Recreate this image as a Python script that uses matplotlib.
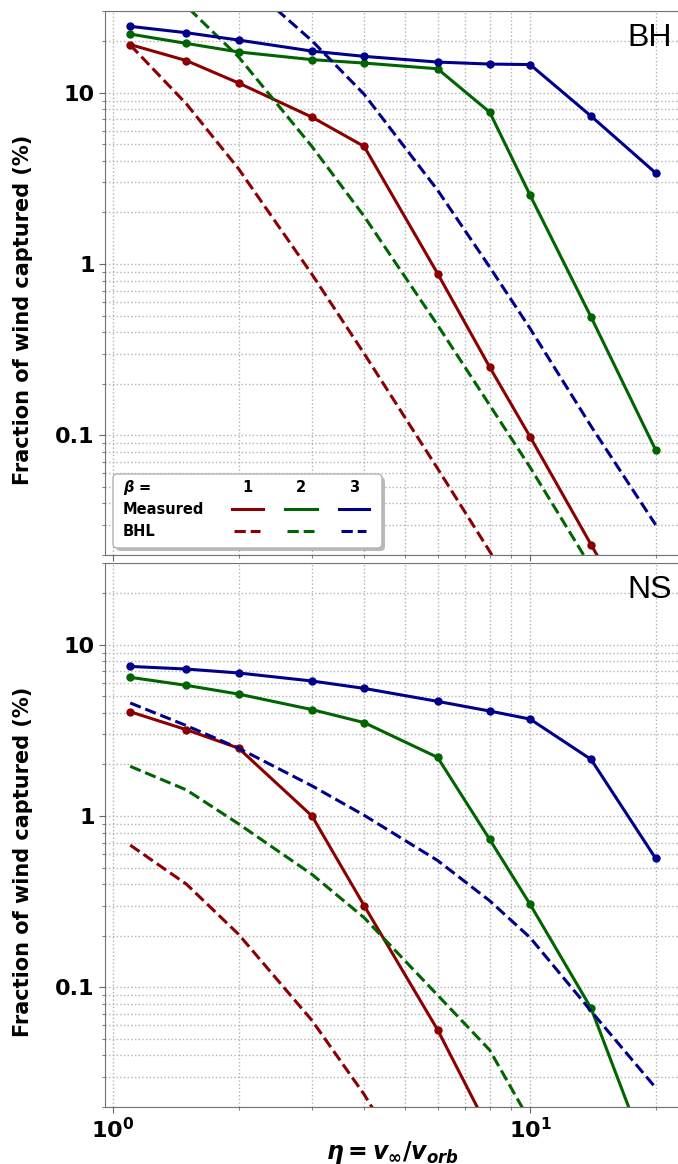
import numpy as np
import matplotlib
matplotlib.use('Agg')
import matplotlib.pyplot as plt
from matplotlib.ticker import FuncFormatter, LogLocator, NullFormatter
from matplotlib.patches import FancyBboxPatch
from matplotlib.lines import Line2D

plt.rcParams['font.family'] = 'DejaVu Sans'
plt.rcParams['font.weight'] = 'bold'
plt.rcParams['mathtext.fontset'] = 'custom'
plt.rcParams['mathtext.rm'] = 'DejaVu Sans:bold'
plt.rcParams['mathtext.bf'] = 'DejaVu Sans:bold'
plt.rcParams['mathtext.it'] = 'DejaVu Sans:italic:bold'

# eta = v_inf / v_orb
eta = [1.1, 1.5, 2, 3, 4, 6, 8, 10, 14, 20]
betas = ['1', '2', '3']
colors = ['#8b0000', '#006400', '#00008b']

# black hole: measured and BHL, beta = 1, 2, 3
bh_meas_1 = [19.1, 15.4, 11.4, 7.2, 4.86, 0.88, 0.25, 0.098, 0.023, 0.005]
bh_meas_2 = [22.0, 19.4, 17.3, 15.6, 14.9, 13.8, 7.7, 2.52, 0.49, 0.082]
bh_meas_3 = [24.4, 22.4, 20.3, 17.5, 16.3, 15.1, 14.7, 14.6, 7.3, 3.4]
bh_bhl_1 = [19.0, 8.6, 3.6, 0.87, 0.30, 0.064, 0.021, 0.0088, 0.0023, 0.00056]
bh_bhl_2 = [55, 32, 16.2, 4.85, 1.9, 0.44, 0.15, 0.065, 0.017, 0.0045]
bh_bhl_3 = [130, 82, 48, 20.1, 9.8, 2.7, 0.96, 0.42, 0.113, 0.030]

# neutron star
ns_meas_1 = [4.06, 3.19, 2.49, 1.0, 0.30, 0.0565, 0.0144, 0.0047, 0.00087, 0.00015]
ns_meas_2 = [6.45, 5.79, 5.15, 4.18, 3.51, 2.20, 0.73, 0.305, 0.0755, 0.0077]
ns_meas_3 = [7.47, 7.21, 6.84, 6.14, 5.56, 4.67, 4.10, 3.68, 2.14, 0.565]
ns_bhl_1 = [0.676, 0.40, 0.204, 0.064, 0.0237, 0.0047, 0.0013, 0.00047, 0.0001, 0.00002]
ns_bhl_2 = [1.95, 1.42, 0.90, 0.456, 0.255, 0.090, 0.043, 0.0165, 0.0036, 0.0007]
ns_bhl_3 = [4.57, 3.37, 2.49, 1.50, 1.01, 0.55, 0.32, 0.195, 0.0726, 0.0259]

panels = [('BH', [bh_meas_1, bh_meas_2, bh_meas_3], [bh_bhl_1, bh_bhl_2, bh_bhl_3]),
          ('NS', [ns_meas_1, ns_meas_2, ns_meas_3], [ns_bhl_1, ns_bhl_2, ns_bhl_3])]

W, H = 678, 1164
fig = plt.figure(figsize=(W / 100, H / 100), dpi=100)

ax_left = 105 / W
ax_w = 576 / W
ax_h = 544 / H
tops = [11, 563]

axes = []
for (name, meas, bhl), top in zip(panels, tops):
    ax = fig.add_axes([ax_left, 1 - (top + 544) / H, ax_w, ax_h])
    axes.append(ax)
    for m, b, c in zip(meas, bhl, colors):
        ax.plot(eta, m, '-', color=c, lw=2.2, marker='o', ms=5, mec=c)
        ax.plot(eta, b, '--', color=c, lw=2.2)
    ax.set_xscale('log')
    ax.set_yscale('log')
    ax.set_xlim(0.957, 23)
    ax.set_ylim(0.02, 30)
    ax.grid(True, which='both', ls=':', color='0.7', lw=1)
    ax.yaxis.set_major_formatter(FuncFormatter(lambda v, _: '%g' % v))
    ax.yaxis.set_minor_formatter(NullFormatter())
    ax.tick_params(which='major', labelsize=16, length=4, color='0.4')
    ax.tick_params(which='minor', length=2, color='0.4')
    for s in ax.spines.values():
        s.set_color('0.45')
    ax.set_ylabel('Fraction of wind captured (%)', fontsize=15, fontweight='bold')
    ax.yaxis.set_label_coords(-0.125, 0.45)
    ax.text(0.985, 0.95, name, transform=ax.transAxes, ha='right', va='center',
            fontsize=23, fontweight='normal', family='Liberation Sans')

axes[0].tick_params(axis='x', which='both', labelbottom=False)
axes[1].set_xlabel(r'$\eta = v_\infty/v_{orb}$', fontsize=17)
axes[1].xaxis.set_label_coords(0.50, -0.058)

# legend table in the top panel
ax = axes[0]
def fx(px):
    return (px - 105) / 576
def fy(py):
    return (555 - py) / 544

shadow = FancyBboxPatch((fx(116), fy(551)), fx(385) - fx(116), fy(477) - fy(551),
                        boxstyle='round,pad=0,rounding_size=0.008', transform=ax.transAxes,
                        fc='0.55', ec='none', alpha=0.6, zorder=5)
box = FancyBboxPatch((fx(113), fy(548)), fx(382) - fx(113), fy(474) - fy(548),
                     boxstyle='round,pad=0,rounding_size=0.008', transform=ax.transAxes,
                     fc='white', ec='0.7', lw=1, zorder=6)
ax.add_patch(shadow)
ax.add_patch(box)
row_y = [fy(487), fy(509), fy(531)]
ax.text(fx(123), row_y[0], r'$\beta$ =', transform=ax.transAxes, fontsize=10.5,
        fontweight='bold', va='center', ha='left', zorder=7)
ax.text(fx(123), row_y[1], 'Measured', transform=ax.transAxes, fontsize=10.5,
        fontweight='bold', va='center', ha='left', zorder=7)
ax.text(fx(123), row_y[2], 'BHL', transform=ax.transAxes, fontsize=10.5,
        fontweight='bold', va='center', ha='left', zorder=7)
col_x = [(232, 263), (285, 317), (339, 369)]
for (x0, x1), c, b in zip(col_x, colors, betas):
    ax.text(fx((x0 + x1) / 2), row_y[0], b, transform=ax.transAxes, fontsize=10.5,
            fontweight='bold', va='center', ha='center', zorder=7)
    ax.add_line(Line2D([fx(x0), fx(x1)], [row_y[1]] * 2, color=c, lw=2.2, ls='-',
                       transform=ax.transAxes, zorder=7))
    ax.add_line(Line2D([fx(x0 + 2), fx(x1 - 3)], [row_y[2]] * 2, color=c, lw=2.2, ls='--',
                       transform=ax.transAxes, zorder=7))

fig.savefig('out.png', dpi=100)
